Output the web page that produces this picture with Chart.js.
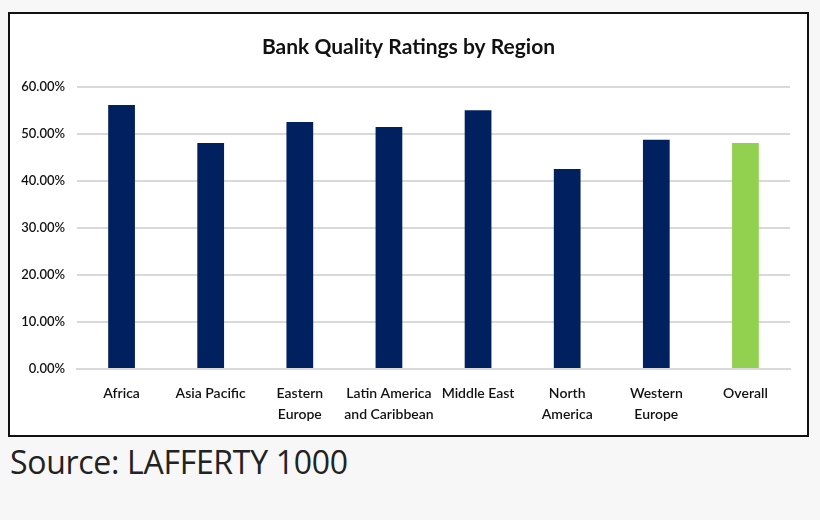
<!DOCTYPE html>
<html>
<head>
<meta charset="utf-8">
<script src="https://cdn.jsdelivr.net/npm/chart.js@4"></script>
<style>
  html, body { margin: 0; padding: 0; background: #f7f7f7; }
  body { width: 820px; height: 520px; position: relative; overflow: hidden; }
  #box {
    position: absolute; left: 8px; top: 12px; width: 801px; height: 425px;
    box-sizing: border-box; border: 2px solid #111; background: #fff;
  }
  #chartBank { display: block; }
  #source {
    position: absolute; left: 10px; top: 440px;
    font-family: 'Open Sans', 'Noto Sans', sans-serif; font-size: 32px; color: #222;
    letter-spacing: -0.3px;
  }
</style>
</head>
<body>
<div id="box"><canvas id="chartBank" width="797" height="421"></canvas></div>
<div id="source">Source: LAFFERTY 1000</div>
<script>
'use strict';
// data
const regions = [
  'Africa', 'Asia Pacific', ['Eastern', 'Europe'], ['Latin America', 'and Caribbean'],
  'Middle East', ['North', 'America'], ['Western', 'Europe'], 'Overall'
];
const ratings = [56.2, 48.1, 52.6, 51.5, 55.1, 42.6, 48.8, 48.1];
const barColors = ['#002060', '#002060', '#002060', '#002060', '#002060', '#002060', '#002060', '#92d050'];
const yTicks = [0, 10, 20, 30, 40, 50, 60];

const labelFont = "Lato, 'Liberation Sans Narrow', sans-serif";

// keep the title centred on the whole box, not on the padded area
const centerTitle = {
  id: 'centerTitle',
  afterLayout(chart) {
    const t = chart.titleBlock;
    if (t) { t.left = 0; t.right = chart.width; t.width = chart.width; }
  }
};

const chartBank = new Chart(document.getElementById('chartBank'), {
  type: 'bar',
  data: {
    labels: regions,
    datasets: [{
      data: ratings,
      backgroundColor: barColors,
      borderWidth: 0,
      barPercentage: 0.3,
      categoryPercentage: 1
    }]
  },
  plugins: [centerTitle],
  options: {
    responsive: false,
    animation: false,
    layout: { padding: { left: 0, right: 17, top: 0, bottom: 0 } },
    plugins: {
      legend: { display: false },
      tooltip: { enabled: false },
      title: {
        display: true,
        text: 'Bank Quality Ratings by Region',
        color: '#111',
        font: { family: labelFont, size: 21, weight: 'bold' },
        padding: { top: 21, bottom: 27 }
      }
    },
    scales: {
      x: {
        grid: { display: false, drawTicks: false },
        border: { display: true, color: '#d9d9d9', width: 2 },
        ticks: {
          color: '#111',
          padding: 14,
          maxRotation: 0,
          autoSkip: false,
          font: { family: labelFont, size: 14, weight: '600', lineHeight: 1.5 }
        },
        afterFit: (scale) => { scale.height = 66; }
      },
      y: {
        min: 0,
        max: 60,
        afterBuildTicks: (scale) => { scale.ticks = yTicks.map(v => ({ value: v })); },
        grid: { color: '#d9d9d9', lineWidth: 2, drawTicks: false },
        border: { display: false },
        ticks: {
          color: '#111',
          padding: 12,
          font: { family: labelFont, size: 13, weight: '600' },
          callback: (v) => v.toFixed(2) + '%'
        },
        afterFit: (scale) => { scale.width = 67; }
      }
    }
  }
});
</script>
</body>
</html>
